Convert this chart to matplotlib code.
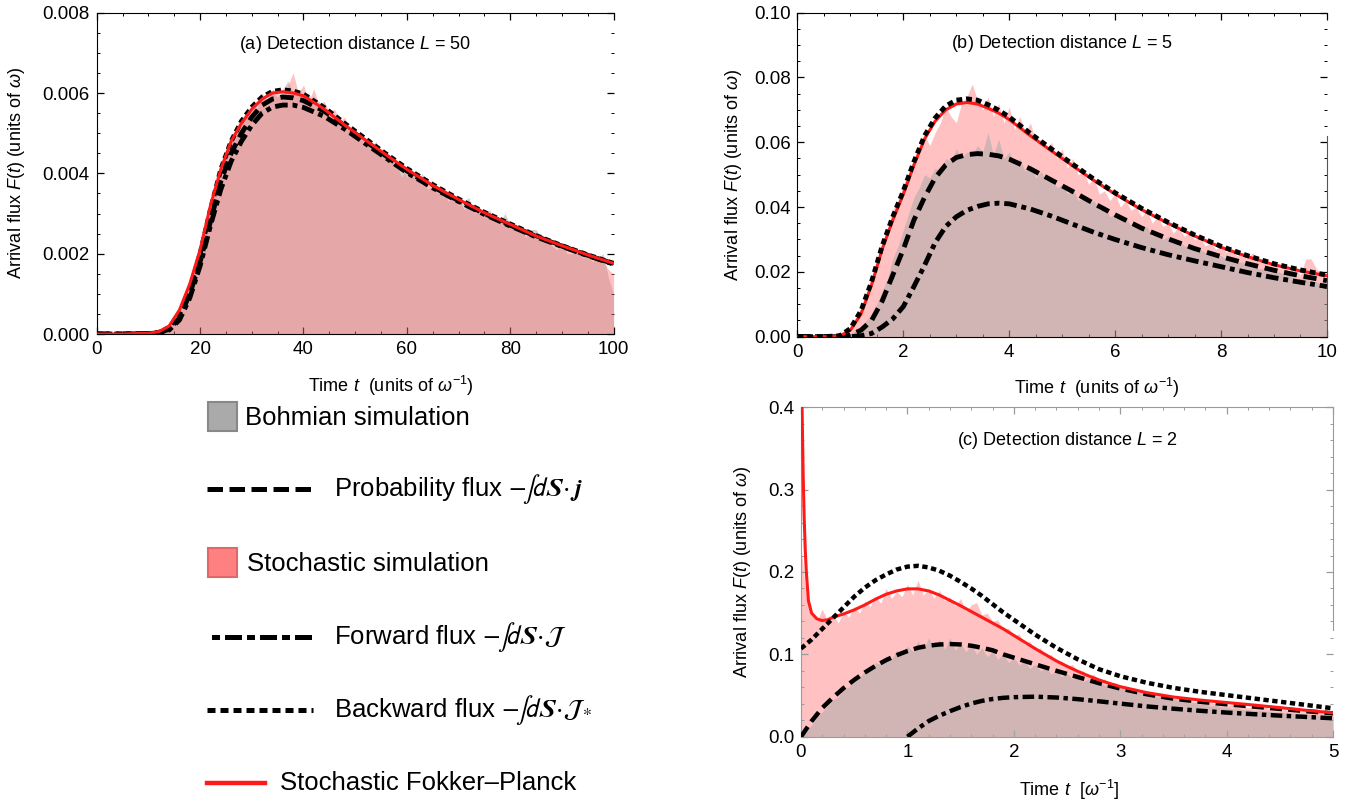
import numpy as np
import matplotlib
matplotlib.use("Agg")
import matplotlib.pyplot as plt
from matplotlib.ticker import MultipleLocator, FormatStrFormatter
from matplotlib.patches import Rectangle
from matplotlib.lines import Line2D

plt.rcParams['font.family'] = ['Liberation Sans', 'DejaVu Sans']
plt.rcParams['mathtext.fontset'] = 'custom'
plt.rcParams['mathtext.rm'] = 'Liberation Sans'
plt.rcParams['mathtext.it'] = 'Liberation Sans:italic'
plt.rcParams['mathtext.bf'] = 'Liberation Sans:bold'

# ---------------- panel (a): L = 50 ----------------
t_a = [0, 5, 10, 12, 14, 16, 18, 20, 22, 24, 26, 28, 30, 32, 34, 36, 38, 40,
       44, 48, 52, 56, 60, 65, 70, 75, 80, 85, 90, 95, 100]
fp_a = [0, 0, 0.00002, 0.00006, 0.0002, 0.0006, 0.00125, 0.0021, 0.0032, 0.0041, 0.0048,
        0.00525, 0.0056, 0.00585, 0.006, 0.00603, 0.006, 0.00593, 0.0056, 0.0052, 0.00483,
        0.00446, 0.0041, 0.0037, 0.00335, 0.00302, 0.00273, 0.00244, 0.0022, 0.00197, 0.00176]
backward_a = [0, 0, 0.00001, 0.00004, 0.00016, 0.0005, 0.0011, 0.002, 0.0031, 0.0041, 0.0048,
              0.0053, 0.00565, 0.0059, 0.00604, 0.00608, 0.00605, 0.00597, 0.00564, 0.00524,
              0.00486, 0.00448, 0.00412, 0.00372, 0.00336, 0.00303, 0.00274, 0.00245, 0.0022,
              0.00197, 0.00176]
prob_a = [0, 0, 0.00001, 0.00003, 0.00012, 0.0004, 0.001, 0.0018, 0.0028, 0.0038, 0.0045,
          0.005, 0.0054, 0.0057, 0.00585, 0.0059, 0.00588, 0.00581, 0.00555, 0.00518, 0.0048,
          0.00443, 0.00406, 0.00367, 0.00332, 0.003, 0.00271, 0.00243, 0.00219, 0.00196, 0.00175]
forward_a = [0, 0, 0.00001, 0.00003, 0.0001, 0.00035, 0.0009, 0.0017, 0.0027, 0.0036, 0.0043,
             0.0048, 0.0052, 0.0055, 0.00565, 0.0057, 0.0057, 0.00564, 0.00542, 0.0051, 0.00474,
             0.00438, 0.00402, 0.00364, 0.0033, 0.00298, 0.00269, 0.00242, 0.00218, 0.00195, 0.00174]

# histograms, one value per time unit 0..100
stoch_a = [0] * 12 + [
    0.00005, 0.0001, 0.0002, 0.0004, 0.0007, 0.0009, 0.0013, 0.0018, 0.0021, 0.0026,
    0.0033, 0.0036, 0.0043, 0.0044, 0.0049, 0.0050, 0.0053, 0.0054, 0.0057, 0.0056,
    0.0060, 0.0058, 0.0061, 0.0060, 0.0059, 0.0062, 0.0065, 0.0060, 0.0062, 0.0058,
    0.0061, 0.0057, 0.0058, 0.0055, 0.0056, 0.0053, 0.0054, 0.0050, 0.0051, 0.0049,
    0.0048, 0.0046, 0.0048, 0.0044, 0.0045, 0.0043, 0.0042, 0.0039, 0.0042, 0.0040,
    0.0038, 0.0037, 0.0039, 0.0036, 0.0037, 0.0034, 0.0035, 0.0033, 0.0034, 0.0031,
    0.0032, 0.0031, 0.0030, 0.0031, 0.0029, 0.0028, 0.0029, 0.0027, 0.0027, 0.0026,
    0.0027, 0.0025, 0.0025, 0.0024, 0.0025, 0.0023, 0.0023, 0.0022, 0.0022, 0.0021,
    0.0022, 0.0020, 0.0021, 0.0019, 0.0020, 0.0019, 0.0018, 0.0016, 0.0015]
bohm_a = [0] * 12 + [
    0.00003, 0.0001, 0.0002, 0.0004, 0.0006, 0.0010, 0.0014, 0.0017, 0.0022, 0.0027,
    0.0031, 0.0037, 0.0041, 0.0045, 0.0048, 0.0051, 0.0052, 0.0055, 0.0055, 0.0058,
    0.0058, 0.0059, 0.0060, 0.0059, 0.0061, 0.0063, 0.0060, 0.0061, 0.0059, 0.0060,
    0.0057, 0.0058, 0.0056, 0.0056, 0.0054, 0.0054, 0.0052, 0.0051, 0.0049, 0.0050,
    0.0047, 0.0048, 0.0045, 0.0046, 0.0043, 0.0044, 0.0041, 0.0042, 0.0039, 0.0041,
    0.0038, 0.0040, 0.0036, 0.0037, 0.0035, 0.0036, 0.0033, 0.0034, 0.0032, 0.0033,
    0.0034, 0.0030, 0.0031, 0.0029, 0.0031, 0.0028, 0.0028, 0.0030, 0.0027, 0.0026,
    0.0027, 0.0024, 0.0026, 0.0026, 0.0024, 0.0023, 0.0022, 0.0021, 0.0022, 0.0020,
    0.0020, 0.0021, 0.0019, 0.0019, 0.0018, 0.0019, 0.0020, 0.0014, 0.0010]

# ---------------- panel (b): L = 5 ----------------
t_b = [0, 0.5, 0.8, 1.0, 1.2, 1.4, 1.6, 1.8, 2.0, 2.2, 2.4, 2.6, 2.8, 3.0, 3.2, 3.4,
       3.6, 3.8, 4.0, 4.4, 4.8, 5.2, 5.6, 6.0, 6.5, 7.0, 7.5, 8.0, 8.5, 9.0, 9.5, 10.0]
fp_b = [0, 0, 0.0002, 0.002, 0.007, 0.016, 0.027, 0.036, 0.044, 0.053, 0.061, 0.0665,
        0.070, 0.0718, 0.0723, 0.0718, 0.0705, 0.069, 0.067, 0.062, 0.0573, 0.0527, 0.0482,
        0.044, 0.0392, 0.035, 0.0311, 0.0276, 0.0247, 0.0222, 0.0203, 0.0188]
backward_b = [0, 0, 0.0003, 0.0025, 0.008, 0.017, 0.028, 0.037, 0.045, 0.054, 0.062, 0.0675,
              0.0712, 0.073, 0.0734, 0.073, 0.0716, 0.0699, 0.0678, 0.0627, 0.0579, 0.0532,
              0.0486, 0.0444, 0.0396, 0.0353, 0.0314, 0.0279, 0.025, 0.0225, 0.0206, 0.019]
prob_b = [0, 0, 0, 0.0005, 0.002, 0.005, 0.011, 0.019, 0.027, 0.036, 0.043, 0.049, 0.053,
          0.0553, 0.0562, 0.0565, 0.0563, 0.0558, 0.0548, 0.0518, 0.0483, 0.0448, 0.0411,
          0.0376, 0.0335, 0.0302, 0.0272, 0.0247, 0.0225, 0.0205, 0.0188, 0.0173]
forward_b = [0, 0, 0, 0, 0.0003, 0.001, 0.003, 0.0055, 0.0093, 0.0155, 0.022, 0.029, 0.034,
             0.037, 0.039, 0.0402, 0.041, 0.0412, 0.041, 0.0394, 0.0372, 0.0347, 0.0322, 0.030,
             0.0275, 0.0253, 0.0234, 0.0216, 0.0198, 0.0182, 0.0168, 0.0155]

# histograms every 0.1
stoch_b = [0] * 9 + [
    0.001, 0.003, 0.005, 0.009, 0.013, 0.018, 0.022, 0.029, 0.033, 0.039,
    0.042, 0.047, 0.050, 0.055, 0.056, 0.062, 0.059, 0.063, 0.066, 0.071,
    0.068, 0.066, 0.072, 0.074, 0.078, 0.073, 0.070, 0.074, 0.068, 0.072,
    0.066, 0.071, 0.064, 0.068, 0.063, 0.066, 0.060, 0.061, 0.058, 0.060,
    0.055, 0.058, 0.052, 0.055, 0.050, 0.051, 0.047, 0.049, 0.044, 0.045,
    0.042, 0.044, 0.040, 0.042, 0.039, 0.040, 0.037, 0.039, 0.035, 0.037,
    0.034, 0.035, 0.032, 0.034, 0.031, 0.032, 0.030, 0.031, 0.028, 0.029,
    0.027, 0.028, 0.026, 0.027, 0.025, 0.026, 0.024, 0.026, 0.023, 0.024,
    0.022, 0.023, 0.021, 0.022, 0.020, 0.021, 0.019, 0.024, 0.024, 0.021,
    0.019, 0.018]
bohm_b = [0] * 10 + [
    0.001, 0.002, 0.003, 0.005, 0.007, 0.010, 0.014, 0.018, 0.024, 0.028,
    0.033, 0.038, 0.043, 0.046, 0.050, 0.049, 0.052, 0.051, 0.055, 0.054,
    0.058, 0.055, 0.057, 0.056, 0.059, 0.057, 0.063, 0.056, 0.061, 0.055,
    0.057, 0.053, 0.055, 0.051, 0.053, 0.049, 0.051, 0.048, 0.049, 0.046,
    0.047, 0.044, 0.046, 0.042, 0.043, 0.041, 0.042, 0.039, 0.040, 0.037,
    0.038, 0.036, 0.037, 0.034, 0.035, 0.033, 0.034, 0.031, 0.032, 0.030,
    0.031, 0.029, 0.030, 0.028, 0.028, 0.027, 0.027, 0.026, 0.026, 0.025,
    0.025, 0.024, 0.024, 0.023, 0.023, 0.022, 0.023, 0.021, 0.021, 0.020,
    0.020, 0.020, 0.019, 0.019, 0.018, 0.018, 0.018, 0.017, 0.017, 0.016,
    0.016]

# ---------------- panel (c): L = 2 ----------------
t_c_fp = [0.005, 0.01, 0.02, 0.03, 0.04, 0.05, 0.07, 0.1, 0.15, 0.2, 0.25, 0.3, 0.4, 0.5,
          0.6, 0.7, 0.8, 0.9, 1.0, 1.1, 1.2, 1.3, 1.4, 1.5, 1.6, 1.7, 1.8, 1.9, 2.0, 2.1,
          2.2, 2.3, 2.4, 2.5, 2.6, 2.7, 2.8, 2.9, 3.0, 3.25, 3.5, 3.75, 4.0, 4.25, 4.5,
          4.75, 5.0]
fp_c = [0.45, 0.40, 0.32, 0.265, 0.227, 0.2, 0.165, 0.15, 0.143, 0.141, 0.142, 0.145, 0.149,
        0.154, 0.16, 0.167, 0.173, 0.177, 0.1795, 0.1795, 0.177, 0.172, 0.1655, 0.159, 0.152,
        0.145, 0.138, 0.131, 0.123, 0.115, 0.107, 0.0995, 0.092, 0.0855, 0.0795, 0.074,
        0.069, 0.0647, 0.0608, 0.0535, 0.0482, 0.0445, 0.0415, 0.0385, 0.0353, 0.032, 0.029]
t_c = [0, 0.1, 0.2, 0.3, 0.4, 0.5, 0.6, 0.7, 0.8, 0.9, 1.0, 1.1, 1.2, 1.3, 1.4, 1.5, 1.6,
       1.7, 1.8, 1.9, 2.0, 2.2, 2.4, 2.6, 2.8, 3.0, 3.25, 3.5, 3.75, 4.0, 4.25, 4.5, 4.75, 5.0]
backward_c = [0.107, 0.118, 0.131, 0.144, 0.157, 0.17, 0.181, 0.19, 0.197, 0.203, 0.2065,
              0.2075, 0.2055, 0.2015, 0.1955, 0.188, 0.18, 0.171, 0.161, 0.151, 0.142, 0.124,
              0.108, 0.094, 0.082, 0.0735, 0.0655, 0.0593, 0.0545, 0.0505, 0.0465, 0.0425,
              0.0385, 0.0345]
prob_c = [0, 0.019, 0.035, 0.0475, 0.059, 0.069, 0.078, 0.086, 0.093, 0.099, 0.104, 0.108,
          0.1105, 0.112, 0.1125, 0.112, 0.1105, 0.108, 0.105, 0.1, 0.096, 0.088, 0.08, 0.0725,
          0.065, 0.0585, 0.0515, 0.0462, 0.0424, 0.0394, 0.0366, 0.0338, 0.031, 0.0284]
t_c_fwd = [1.0, 1.1, 1.2, 1.3, 1.4, 1.5, 1.6, 1.7, 1.8, 1.9, 2.0, 2.2, 2.4, 2.6, 2.8, 3.0,
           3.25, 3.5, 3.75, 4.0, 4.25, 4.5, 4.75, 5.0]
forward_c = [0.0, 0.01, 0.019, 0.0255, 0.031, 0.036, 0.0403, 0.0435, 0.0458, 0.0472, 0.048,
             0.0486, 0.0476, 0.0456, 0.043, 0.0402, 0.0368, 0.034, 0.0315, 0.0293, 0.0274,
             0.0256, 0.024, 0.0224]

# histograms every 0.05
stoch_c = [
    0.23, 0.17, 0.15, 0.14, 0.155, 0.14, 0.15, 0.138, 0.152, 0.145,
    0.158, 0.15, 0.165, 0.158, 0.17, 0.162, 0.18, 0.168, 0.176, 0.17,
    0.185, 0.172, 0.19, 0.172, 0.18, 0.168, 0.178, 0.165, 0.17, 0.158,
    0.168, 0.152, 0.16, 0.163, 0.148, 0.15, 0.14, 0.142, 0.13, 0.132,
    0.122, 0.125, 0.112, 0.116, 0.105, 0.108, 0.097, 0.1, 0.09, 0.092,
    0.084, 0.088, 0.078, 0.08, 0.072, 0.076, 0.068, 0.07, 0.064, 0.066,
    0.06, 0.062, 0.056, 0.058, 0.053, 0.055, 0.05, 0.052, 0.048, 0.049,
    0.046, 0.047, 0.044, 0.045, 0.042, 0.044, 0.041, 0.042, 0.039, 0.04,
    0.038, 0.039, 0.036, 0.038, 0.035, 0.036, 0.034, 0.038, 0.033, 0.034,
    0.032, 0.033, 0.031, 0.032, 0.03, 0.031, 0.029, 0.03, 0.029, 0.028,
    0.028]
bohm_c = [
    0, 0.008, 0.014, 0.024, 0.03, 0.038, 0.045, 0.048, 0.058, 0.06,
    0.07, 0.072, 0.08, 0.08, 0.09, 0.088, 0.098, 0.094, 0.105, 0.1,
    0.11, 0.104, 0.116, 0.106, 0.12, 0.108, 0.118, 0.106, 0.12, 0.105,
    0.114, 0.103, 0.112, 0.1, 0.108, 0.097, 0.104, 0.094, 0.1, 0.09,
    0.096, 0.087, 0.092, 0.083, 0.088, 0.08, 0.084, 0.076, 0.08, 0.073,
    0.077, 0.07, 0.073, 0.067, 0.07, 0.064, 0.068, 0.062, 0.065, 0.06,
    0.062, 0.056, 0.058, 0.053, 0.055, 0.05, 0.052, 0.048, 0.049, 0.045,
    0.047, 0.043, 0.044, 0.041, 0.042, 0.039, 0.04, 0.037, 0.038, 0.036,
    0.036, 0.034, 0.035, 0.033, 0.033, 0.032, 0.032, 0.031, 0.031, 0.03,
    0.03, 0.029, 0.029, 0.028, 0.028, 0.027, 0.027, 0.026, 0.026, 0.025,
    0.025]

# colours (fills are translucent, as in the original)
PINK = (1.0, 115 / 255, 115 / 255)
GREY = (171 / 255, 171 / 255, 171 / 255)
RED = '#ff1a1a'
DASHED = (0, (2.7, 1.4))
DASHDOT = (0, (2.6, 1.0, 1.0, 1.0))
DOTTED = (0, (1.2, 0.8))
TFS = 13.5   # tick labels
AFS = 13     # axis labels and panel titles

fig = plt.figure(figsize=(13.59, 8.02), dpi=100)

# legend drawn in figure pixel coordinates
ax_leg = fig.add_axes([0, 0, 1, 1])
ax_leg.set_xlim(0, 1359)
ax_leg.set_ylim(802, 0)
ax_leg.axis('off')

ax_a = fig.add_axes([0.0712, 0.5835, 0.3803, 0.4007])
ax_b = fig.add_axes([0.5868, 0.5802, 0.3896, 0.4040])
ax_c = fig.add_axes([0.5894, 0.0814, 0.3915, 0.4108])


def style(ax, xmaj, xmin, ymaj, ymin, yfmt):
    ax.xaxis.set_major_locator(MultipleLocator(xmaj))
    ax.xaxis.set_minor_locator(MultipleLocator(xmin))
    ax.yaxis.set_major_locator(MultipleLocator(ymaj))
    ax.yaxis.set_minor_locator(MultipleLocator(ymin))
    ax.yaxis.set_major_formatter(FormatStrFormatter(yfmt))
    ax.xaxis.set_major_formatter(FormatStrFormatter('%g'))
    ax.tick_params(which='both', direction='in', top=True, right=True, labelsize=TFS)
    ax.tick_params(which='major', length=5, width=0.9, pad=5)
    ax.tick_params(which='minor', length=2.5, width=0.7)


# ---- (a)
t_fill_a = np.linspace(0, 100, 101)
ax_a.fill_between(t_fill_a, 0, bohm_a, color=GREY, alpha=0.54, lw=0, zorder=1)
ax_a.fill_between(t_fill_a, 0, stoch_a, color=PINK, alpha=0.44, lw=0, zorder=2)
ax_a.plot(t_a, forward_a, color='black', lw=3.5, ls=DASHDOT, zorder=3)
ax_a.plot(t_a, prob_a, color='black', lw=3.5, ls=DASHED, zorder=3)
ax_a.plot(t_a, backward_a, color='black', lw=3.5, ls=DOTTED, zorder=3)
ax_a.plot(t_a, fp_a, color=RED, lw=2.2, zorder=4)
ax_a.set_xlim(0, 100)
ax_a.set_ylim(0, 0.008)
style(ax_a, 20, 5, 0.002, 0.0005, '%.3f')
ax_a.spines['right'].set_visible(False)
ax_a.text(0.5, 0.9, '(a) Detection distance $L$ = 50', transform=ax_a.transAxes,
          ha='center', va='center', fontsize=AFS)
ax_a.set_ylabel(r'Arrival flux $F(t)$ (units of $\omega$)', fontsize=AFS)
ax_a.yaxis.set_label_coords(-0.135, 0.5)
ax_a.set_xlabel(r'Time $t$  (units of $\omega^{-1}$)', fontsize=AFS)
ax_a.xaxis.set_label_coords(0.57, -0.124)

# ---- (b)
t_fill_b = np.linspace(0, 10, 101)
ax_b.fill_between(t_fill_b, 0, stoch_b, color=PINK, alpha=0.44, lw=0, zorder=1)
ax_b.fill_between(t_fill_b, 0, bohm_b, color=GREY, alpha=0.54, lw=0, zorder=2)
ax_b.plot(t_b, forward_b, color='black', lw=3.5, ls=DASHDOT, zorder=3)
ax_b.plot(t_b, prob_b, color='black', lw=3.5, ls=DASHED, zorder=3)
ax_b.plot(t_b, fp_b, color=RED, lw=2.2, zorder=3)
ax_b.plot(t_b, backward_b, color='black', lw=3.5, ls=DOTTED, zorder=4)
ax_b.set_xlim(0, 10)
ax_b.set_ylim(0, 0.1)
style(ax_b, 2, 0.5, 0.02, 0.005, '%.2f')
ax_b.spines['right'].set_bounds(0, 0.062)
ax_b.spines['right'].set_color('#555555')
ax_b.text(0.5, 0.905, '(b) Detection distance $L$ = 5', transform=ax_b.transAxes,
          ha='center', va='center', fontsize=AFS)
ax_b.set_ylabel(r'Arrival flux $F(t)$ (units of $\omega$)', fontsize=AFS)
ax_b.yaxis.set_label_coords(-0.101, 0.5)
ax_b.set_xlabel(r'Time $t$  (units of $\omega^{-1}$)', fontsize=AFS)
ax_b.xaxis.set_label_coords(0.566, -0.121)

# ---- (c)
t_fill_c = np.linspace(0, 5, 101)
ax_c.fill_between(t_fill_c, 0, stoch_c, color=PINK, alpha=0.44, lw=0, zorder=1)
ax_c.fill_between(t_fill_c, 0, bohm_c, color=GREY, alpha=0.54, lw=0, zorder=2)
ax_c.plot(t_c_fwd, forward_c, color='black', lw=3.2, ls=DASHDOT, zorder=3)
ax_c.plot(t_c, prob_c, color='black', lw=3.2, ls=DASHED, zorder=3)
ax_c.plot(t_c_fp, fp_c, color=RED, lw=2.2, zorder=3)
ax_c.plot(t_c, backward_c, color='black', lw=3.2, ls=DOTTED, zorder=4)
ax_c.set_xlim(0, 5)
ax_c.set_ylim(0, 0.4)
style(ax_c, 1, 0.2, 0.1, 0.02, '%.1f')
for sp in ax_c.spines.values():
    sp.set_color('#9a9a9a')
ax_c.spines['right'].set_bounds(0.13, 0.4)
ax_c.tick_params(which='both', colors='#9a9a9a', labelcolor='black')
ax_c.text(0.5, 0.9, '(c) Detection distance $L$ = 2', transform=ax_c.transAxes,
          ha='center', va='center', fontsize=AFS)
ax_c.set_ylabel(r'Arrival flux $F(t)$ (units of $\omega$)', fontsize=AFS)
ax_c.yaxis.set_label_coords(-0.09, 0.5)
ax_c.set_xlabel(r'Time $t$  $[\omega^{-1}]$', fontsize=AFS)
ax_c.xaxis.set_label_coords(0.504, -0.125)

# ---- legend (left, below panel a)
LFS = 18.5
ax_leg.add_patch(Rectangle((208, 402), 29, 29, facecolor='#aaaaaa', edgecolor='#888888', lw=1.5))
ax_leg.text(245, 418, 'Bohmian simulation', fontsize=LFS, va='center')
ax_leg.add_line(Line2D([207, 313], [489, 489], color='black', lw=3.6, ls=(0, (3.1, 1.3))))
ax_leg.text(334, 489, r'Probability flux $-\!\int\! d\mathbfit{S}\!\cdot\!\mathbfit{j}$',
            fontsize=LFS, va='center', math_fontfamily='stixsans')
ax_leg.add_patch(Rectangle((208, 548), 29, 29, facecolor='#ff8080', edgecolor='#e06868', lw=1.5))
ax_leg.text(247, 564, 'Stochastic simulation', fontsize=LFS, va='center')
ax_leg.add_line(Line2D([207, 313], [637, 637], color='black', lw=3.6,
                       ls=(3.5, (3.4, 1.0, 1.6, 1.0))))
ax_leg.text(334, 637, r'Forward flux $-\!\int\! d\mathbfit{S}\!\cdot\!\mathcal{J}$',
            fontsize=LFS, va='center', math_fontfamily='stixsans')
ax_leg.add_line(Line2D([207, 313], [710, 710], color='black', lw=3.6, ls=(0, (1.6, 1.0))))
ax_leg.text(334, 710, r'Backward flux $-\!\int\! d\mathbfit{S}\!\cdot\!\mathcal{J}_*$',
            fontsize=LFS, va='center', math_fontfamily='stixsans')
ax_leg.add_line(Line2D([207, 265], [783, 783], color=RED, lw=3.2))
ax_leg.text(280, 783, 'Stochastic Fokker\u2013Planck', fontsize=LFS, va='center')

fig.savefig('out.png', dpi=100)
